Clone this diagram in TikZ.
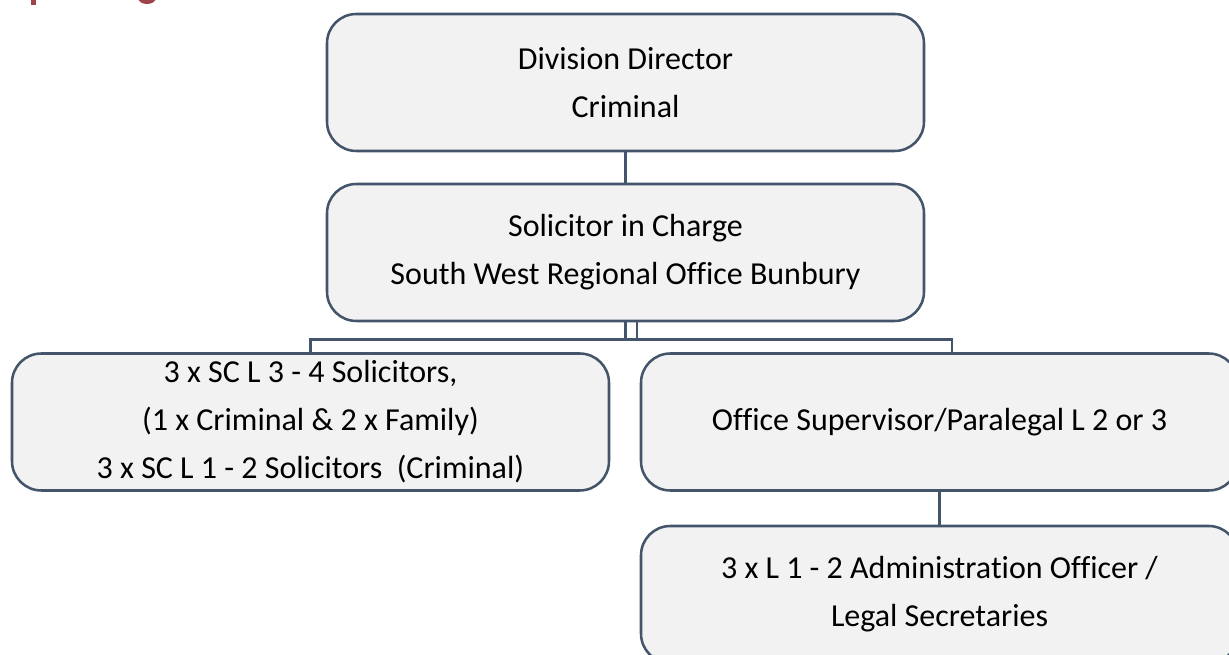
\documentclass[tikz,border=0pt]{standalone}
\usepackage{fontspec}
\setmainfont{Carlito}[Ligatures=NoCommon]
\definecolor{boxline}{HTML}{44546A}
\definecolor{boxfill}{HTML}{F2F2F2}
\definecolor{titlered}{HTML}{A0434B}
\tikzset{
  orgbox/.style={draw=boxline, fill=boxfill, line width=1.9pt, rounded corners=22pt,
    minimum width=447.75pt, minimum height=102.75pt, align=center, inner sep=0pt,
    font=\fontsize{24}{36}\selectfont},
  conn/.style={draw=boxline, line width=1.9pt}
}
\begin{document}
\begin{tikzpicture}[x=0.75pt,y=-0.75pt]
\useasboundingbox (0,0) rectangle (1229,655);
\clip (0,0) rectangle (1229,655);
% cut-off title fragments
\fill[titlered] (31,-2) rectangle (36,5);
\fill[titlered] (138,-2) .. controls (139,6) and (155,6) .. (156,-2) -- (151,-2) .. controls (150,1) and (144,1) .. (143,-2) -- cycle;
\node[orgbox] (dd) at (625.5,82.5) {Division Director\\Criminal};
\node[orgbox] (sic) at (625.5,252.5) {Solicitor in Charge\\South West Regional Office Bunbury};
\node[orgbox] (left) at (310.5,422) {3 x SC L 3 - 4 Solicitors,\\(1 x Criminal \& 2 x Family)\\3 x SC L 1 - 2 Solicitors\ \ (Criminal)};
\node[orgbox] (right) at (939.5,422) {Office Supervisor/Paralegal L 2 or 3};
\node[orgbox] (bot) at (939.5,594.5) {3 x L 1 - 2 Administration Officer /\\Legal Secretaries};
\draw[conn] (dd.south) -- (sic.north);
\draw[conn] (sic.south) -- ++(0,17) -| ([xshift=9.4pt]right.north);
\draw[conn] ([xshift=8.6pt]sic.south) -- ++(0,17) -| (left.north);
\draw[conn] (right.south) -- (bot.north);
\end{tikzpicture}
\end{document}
